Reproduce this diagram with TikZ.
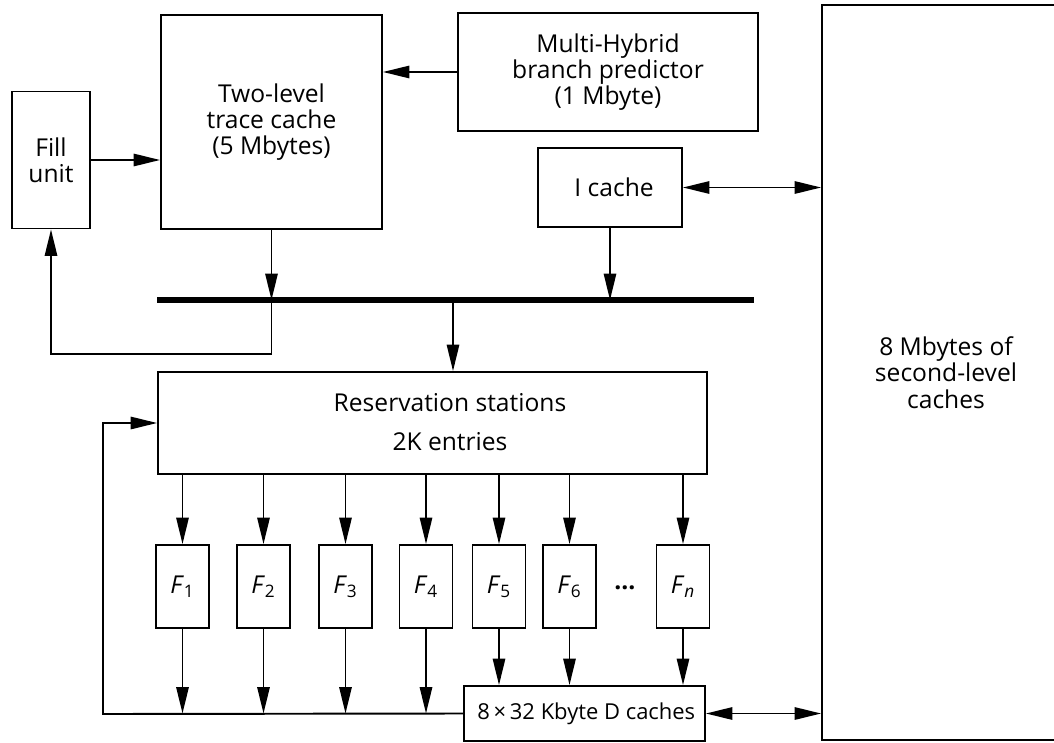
\documentclass[tikz,border=0pt]{standalone}
\usepackage{fontspec}
\setmainfont{Open Sans}
\usetikzlibrary{arrows.meta, positioning, calc}

\begin{document}
\begin{tikzpicture}[x=0.02cm, y=-0.02cm, font=\fontsize{14}{15}\selectfont,
        >={Triangle[length=15pt, width=7pt]}, line width=1.1pt,
        blk/.style={draw, line width=1.1pt, align=center, inner sep=0pt},
        fu/.style={blk, minimum width=1.06cm, minimum height=1.66cm},
        bus/.style={line width=3pt}]
        \useasboundingbox (0,0) rectangle (1054,743);
        % front end
        \node[blk, minimum width=1.56cm, minimum height=2.74cm] (fill) at (51,160) {Fill\\unit};
        \node[blk, minimum width=4.42cm, minimum height=4.28cm] (tc) at (271.5,122) {Two-level\\trace cache\\(5 Mbytes)};
        \node[blk, minimum width=6cm, minimum height=2.36cm] (bp) at (608,72) {Multi-Hybrid\\branch predictor\\(1 Mbyte)};
        \node[blk, minimum width=2.88cm, minimum height=1.58cm] (ic) at (610,187.5) {\,\,I cache};
        \node[blk, minimum width=4.96cm, minimum height=14.7cm] (l2) at (946,372.5) {8 Mbytes of\\second-level\\caches};
        % bus
        \coordinate (busL) at (157,300);
        \coordinate (busR) at (754,300);
        \coordinate (tap) at (453,300);
        \draw[bus] (busL) -- (busR);
        % back end
        \node[blk, minimum width=10.98cm, minimum height=2.04cm] (rs) at (432.5,423) {};
        \node[align=center] (rstxt) at (450,422) {Reservation stations\\[7.5pt]2K entries};
        \node[fu] (f1) at (182.5,586.5) {\textit{F}\textsubscript{1}};
        \node[fu] (f2) at (263.5,586.5) {\textit{F}\textsubscript{2}};
        \node[fu] (f3) at (345.5,586.5) {\textit{F}\textsubscript{3}};
        \node[fu] (f4) at (426,586.5) {\textit{F}\textsubscript{4}};
        \node[fu] (f5) at (499,586.5) {\textit{F}\textsubscript{5}};
        \node[fu] (f6) at (569.5,586.5) {\textit{F}\textsubscript{6}};
        \node[fu] (fn) at (683,586.5) {\textit{F}\textsubscript{\textit{n}}};
        \node (dots) at (625,588) {\textbf{\dots}};
        \node[blk, minimum width=4.82cm, minimum height=1.1cm, font=\fontsize{12.5}{14}\selectfont] (dc) at (584.5,713.5) {\,8\,×\,32 Kbyte D caches};
        \coordinate (loop) at (103,714);
        % connectors
        \draw[->] (bp.west) -- (bp.west -| tc.east);
        \draw[->] (fill.east) -- (fill.east -| tc.west);
        \draw[<->] (ic.east) -- (ic.east -| l2.west);
        \draw[->] (tc.south) -- (tc.south |- busL);
        \draw[->] (ic.south) -- (ic.south |- busL);
        \draw[->] (tc.south |- busL) -- ++(0,54) -| (fill.south);
        \draw[->] (tap) -- (tap |- rs.north);
        \foreach \f in {f1,f2,f3,f4,f5,f6,fn}
            \draw[->] (rs.south -| \f) -- (\f.north);
        \foreach \f in {f1,f2,f3,f4}
            \draw[->] (\f.south) -- (\f.south |- dc.west);
        \foreach \f in {f5,f6,fn}
            \draw[->] (\f.south) -- (\f.south |- dc.north);
        \draw[->] (dc.west) -- (loop) |- (rs.west);
        \draw[<->] (dc.east) -- (dc.east -| l2.west);
\end{tikzpicture}
\end{document}
